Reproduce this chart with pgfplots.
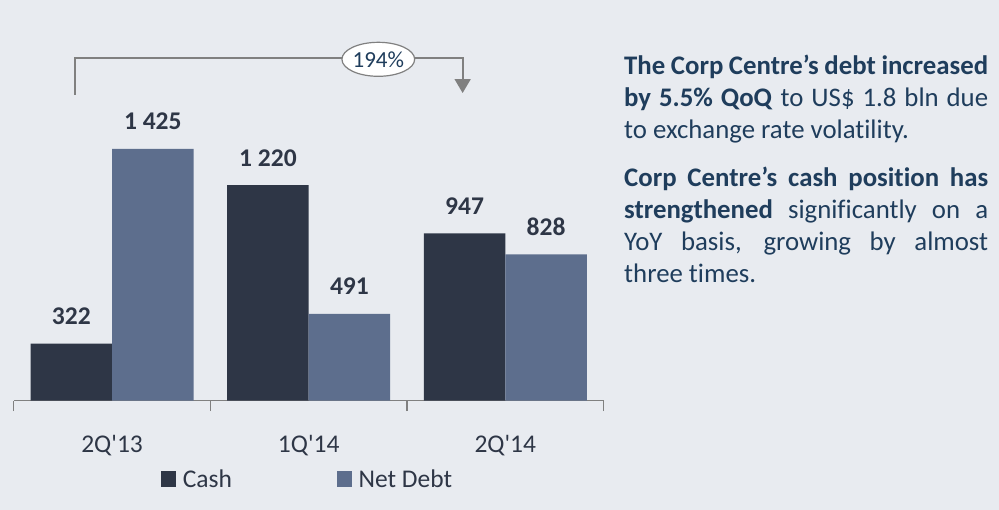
\documentclass[border=0pt]{standalone}
\usepackage{fontspec}
\setmainfont{Carlito}[Ligatures={TeXOff,CommonOff}]
\usepackage{pgfplots}
\pgfplotsset{compat=1.18}
\usetikzlibrary{arrows.meta,shapes.geometric}
\definecolor{bg}{HTML}{E8EBF0}
\definecolor{cash}{HTML}{2E3646}
\definecolor{debt}{HTML}{5D6E8D}
\definecolor{lbl}{HTML}{2E3646}
\definecolor{txt}{HTML}{1F3D5C}
\definecolor{brk}{HTML}{808080}
\begin{document}
\begin{tikzpicture}
\path[use as bounding box, fill=bg] (0,0) rectangle (999bp,-510bp);
\begin{axis}[
  at={(13.8bp,-400.5bp)}, anchor=south west,
  scale only axis, width=589.8bp, height=400.5bp,
  xmin=-0.5, xmax=2.5, ymin=0, ymax=2269,
  ybar=0pt, bar width=81.5bp,
  axis x line*=bottom, axis y line=none,
  x axis line style={brk, line width=1.2bp},
  tick align=outside,
  xtick={0,1,2}, xticklabels={2Q'13,1Q'14,2Q'14},
  major tick length=0pt,
  xticklabel style={anchor=base, yshift=-51.5bp, font=\fontsize{25.5bp}{30bp}\selectfont, text=lbl, inner sep=0pt},
  extra x ticks={-0.5,0.5,1.5,2.5}, extra x tick labels={},
  extra x tick style={major tick length=10.5bp, tick align=outside, tick style={brk, line width=1.2bp}},
  nodes near coords,
  nodes near coords style={anchor=base, yshift=19bp, inner sep=0pt, font=\bfseries\fontsize{25.5bp}{30bp}\selectfont, text=lbl},
  point meta=explicit symbolic,
  clip=false,
  legend columns=2,
  legend style={at={(axis description cs:0.2496,-0.196)}, anchor=west, draw=none, fill=none, inner sep=0pt,
    nodes={inner sep=0pt}, font=\fontsize{25.5bp}{30bp}\selectfont, text=lbl,
    /tikz/every odd column/.style={column sep=6.6bp},
    /tikz/every even column/.style={column sep=105bp}},
  legend image code/.code={\fill[#1] (0bp,-8bp) rectangle (15bp,8bp);},
]
\addplot[fill=cash, draw=none] coordinates {(0,322) [322] (1,1220) [1 220] (2,947) [947]};
\addplot[fill=debt, draw=none] coordinates {(0,1425) [1 425] (1,491) [491] (2,828) [828]};
\legend{Cash, Net Debt}
\draw[brk, line width=1.8bp, -{Triangle[width=16bp,length=14bp]}] (axis cs:-0.187,1731) |- (axis cs:1.783,1942) -- (axis cs:1.783,1742);
\node[ellipse, draw=brk, fill=white, line width=1.2bp, minimum width=70bp, minimum height=34bp, inner sep=0pt, text=txt, font=\fontsize{23bp}{27bp}\selectfont] at (axis cs:1.354,1933) {194\%};
\end{axis}
\node[anchor=base west, inner sep=0pt, text=txt] at (624bp,-74.3bp) {\begin{minipage}[t]{364bp}\fontsize{26.8bp}{32bp}\selectfont\hyphenpenalty=10000
\textbf{The Corp Centre’s debt increased} \linebreak \textbf{by 5.5\% QoQ} to US\$ 1.8 bln due \linebreak to exchange rate volatility.\par\vspace{16bp}
\textbf{Corp Centre’s cash position has} \linebreak \textbf{strengthened} significantly on a \linebreak YoY basis, growing by almost \linebreak three times.\end{minipage}};
\end{tikzpicture}
\end{document}
